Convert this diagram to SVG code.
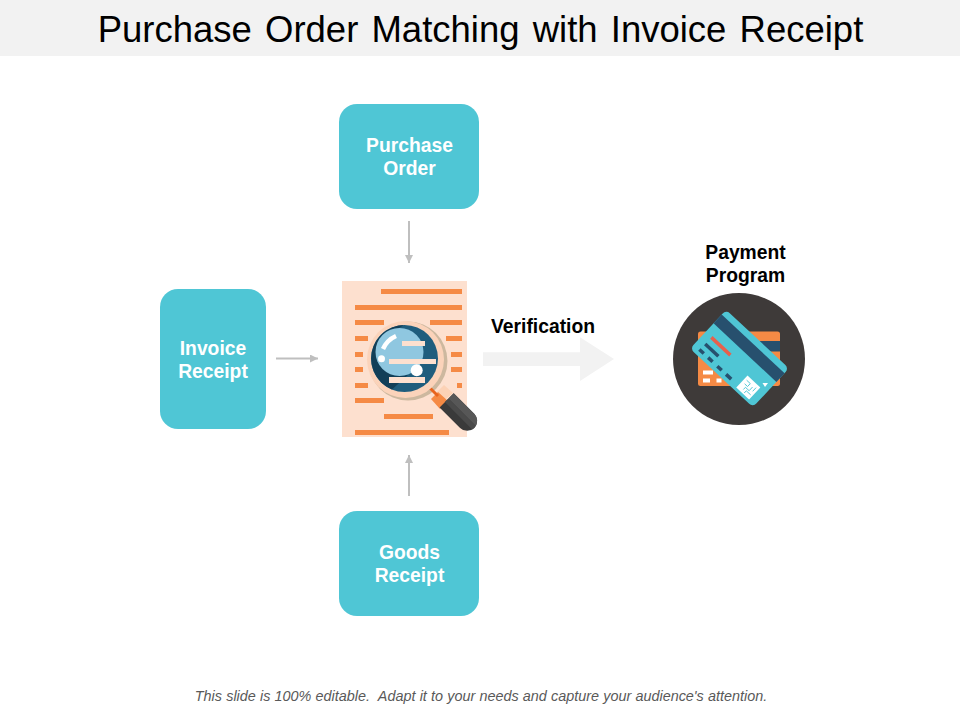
<svg xmlns="http://www.w3.org/2000/svg" width="960" height="720" viewBox="0 0 960 720">
<style>
text{font-family:"Liberation Sans",Arial,sans-serif}
.box{fill:#4fc6d5}
.nl{fill:#fff;font-size:19.300px;font-weight:700;text-anchor:middle}
.bl{fill:#000;font-size:19.300px;font-weight:700;text-anchor:middle}
.c{fill:none;stroke:#bfbfbf;stroke-width:2;marker-end:url(#a)}
.o{fill:#f58a45}
.p{fill:#fde0cf}
.d{fill:#27506e}
</style>
<defs>
<marker id="a" markerUnits="userSpaceOnUse" markerWidth="9" markerHeight="9" refX="8" refY="4" orient="auto"><path d="M0 0L8 4L0 8Z" fill="#bfbfbf"/></marker>
</defs>
<rect width="960" height="56" fill="#f2f2f2"/>
<text id="title" x="480.500" y="41.500" font-size="36.500" text-anchor="middle" word-spacing="3" fill="#000">Purchase Order Matching with Invoice Receipt</text>
<g id="connectors">
<path class="c" d="M409 221V263"/>
<path class="c" d="M276 358.500H318"/>
<path class="c" d="M409 496V455"/>
<path d="M483 352.300H580V337.300L614 359L580 381V366H483Z" fill="#f2f2f2"/>
</g>
<g id="purchase-order"><rect class="box" x="339" y="104" width="140" height="105" rx="18"/><text class="nl" x="409.500" y="152">Purchase</text><text class="nl" x="409.500" y="175">Order</text></g>
<g id="invoice-receipt"><rect class="box" x="160" y="289" width="106" height="140" rx="18"/><text class="nl" x="213" y="355">Invoice</text><text class="nl" x="213" y="378">Receipt</text></g>
<g id="goods-receipt"><rect class="box" x="339" y="511" width="140" height="105" rx="18"/><text class="nl" x="409.500" y="559">Goods</text><text class="nl" x="409.500" y="582">Receipt</text></g>
<g id="document">
<rect class="p" x="342" y="281" width="125" height="156"/>
<rect class="o" x="381" y="289" width="81" height="5"/>
<rect class="o" x="355" y="305" width="107" height="5"/>
<rect class="o" x="355" y="320" width="29" height="5"/><rect class="o" x="430" y="320" width="32" height="5"/>
<rect class="o" x="355" y="336" width="13" height="5"/><rect class="o" x="446" y="336" width="16" height="5"/>
<rect class="o" x="355" y="352" width="8" height="5"/><rect class="o" x="451" y="352" width="11" height="5"/>
<rect class="o" x="355" y="367" width="8" height="5"/><rect class="o" x="451" y="367" width="11" height="5"/>
<rect class="o" x="355" y="383" width="13" height="5"/><rect class="o" x="457" y="383" width="5" height="5"/>
<rect class="o" x="355" y="398" width="29" height="5"/>
<rect class="o" x="384" y="414" width="49" height="5"/>
<rect class="o" x="355" y="430" width="94" height="5"/>
<circle cx="408" cy="361" r="39.500" fill="#cdb89f"/>
<path d="M437 392L444 385L453 393L445 400Z" fill="#fcd2b6"/>
<path d="M431 399L438 392L448 401L440 409Z" fill="#f58a45"/>
<path d="M430 388L438 396" stroke="#e8641e" stroke-width="3" fill="none"/>
<g transform="translate(447 400) rotate(45)">
<path d="M0 -9.500H29A10 10 0 0 1 29 10.500H0Z" fill="#3a3a3a"/>
<path d="M0 -9.500H29A10 10 0 0 1 38.700 -2H0Z" fill="#575757"/>
<path d="M0 -2H38.700A10 10 0 0 1 38.700 3H0Z" fill="#4a4a4a"/>
</g>
<circle cx="405.500" cy="359.500" r="38.500" fill="#fbd3ba"/>
<circle cx="404.500" cy="358.500" r="33.500" fill="#1f5d7d"/>
<path d="M404 325A33.500 33.500 0 0 0 392 389.500L408 375A24 24 0 0 1 399 328Z" fill="#123f58"/>
<circle cx="399.500" cy="352" r="24" fill="#8fc7e0"/>
<path d="M383 349Q387 340 396 336" fill="none" stroke="#fff" stroke-width="4.500"/>
<circle cx="381.500" cy="358.700" r="3.500" fill="#fff"/>
<circle cx="416.700" cy="370.300" r="6" fill="#fff"/>
<rect class="p" x="402" y="341" width="23" height="5"/>
<rect class="p" x="389" y="359" width="47" height="5"/>
<rect class="p" x="389" y="377" width="36" height="6"/>
</g>
<g id="payment-program">
<text class="bl" x="745.500" y="259">Payment</text><text class="bl" x="745.500" y="282">Program</text>
<circle cx="739" cy="359" r="66" fill="#3e3a39"/>
<rect x="698" y="331.500" width="82" height="54.500" rx="2.500" fill="#f58a45"/>
<rect x="698" y="341" width="82" height="10.500" fill="#27506e"/>
<rect x="703" y="370.500" width="10" height="4" fill="#fff"/><rect x="703" y="378.500" width="7" height="4" fill="#fff"/><rect x="716.500" y="378.500" width="5" height="4" fill="#fff"/>
<g transform="translate(739.500 358.500) rotate(43)">
<rect x="-43" y="-26.500" width="86" height="53" rx="5" fill="#4fc6d5"/>
<rect class="d" x="-43" y="-20" width="86" height="12"/>
<rect x="-35" y="2" width="26" height="3.500" fill="#e8604c"/>
<rect class="d" x="-35" y="11" width="18" height="3.500"/>
<rect class="d" x="-35.500" y="19" width="6" height="3.500"/>
<rect class="d" x="-23.500" y="19" width="6" height="3.500"/>
<rect class="d" x="-11" y="19" width="6" height="3.500"/>
<rect class="d" x="1" y="19" width="7" height="3.500"/>
<rect x="17.500" y="7" width="17.500" height="16.500" fill="#fff"/>
<path d="M20 11H25V15H21M24 20V17H29V12M32 10V15M27 22V19H33" fill="none" stroke="#4fc6d5" stroke-width=".9"/>
</g>
<path d="M762.500 383H768L765 387Z" fill="#fff"/>
</g>
<text class="bl" x="543" y="333">Verification</text>
<text id="footer" x="481" y="701" font-size="14.400" font-style="italic" text-anchor="middle" fill="#595959" word-spacing=".2" style="white-space:pre">This slide is 100% editable.  Adapt it to your needs and capture your audience's attention.</text>
</svg>
